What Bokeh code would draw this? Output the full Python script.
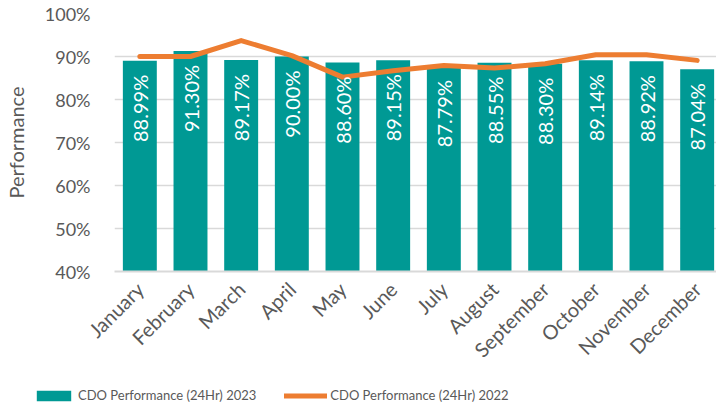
import math
from bokeh.plotting import figure
from bokeh.layouts import column
from bokeh.models import (ColumnDataSource, NumeralTickFormatter, FixedTicker,
                          Legend, LegendItem, Range1d)
from bokeh.core.properties import value
from bokeh.embed import file_html
from bokeh.resources import INLINE

months = ["January", "February", "March", "April", "May", "June", "July",
          "August", "September", "October", "November", "December"]
perf_2023 = [0.8899, 0.9130, 0.8917, 0.9000, 0.8860, 0.8915, 0.8779,
             0.8855, 0.8830, 0.8914, 0.8892, 0.8704]
perf_2022 = [0.900, 0.900, 0.937, 0.902, 0.852, 0.867, 0.879,
             0.873, 0.883, 0.904, 0.904, 0.891]
y_ticks = [0.4, 0.5, 0.6, 0.7, 0.8, 0.9, 1.0]
series_names = ["CDO Performance (24Hr) 2023", "CDO Performance (24Hr) 2022"]

FONT = "Lato"
TEAL = "#009994"
ORANGE = "#ED7D31"
GREY = "#595959"

src = ColumnDataSource(dict(
    month=months, v23=perf_2023, v22=perf_2022,
    lab=[f"{v:.2%}" for v in perf_2023],
))

p = figure(x_range=months, y_range=(0.4, 1.0), frame_width=608, frame_height=258,
           output_backend="svg", toolbar_location=None,
           min_border_left=100, min_border_right=0, min_border_top=13,
           min_border_bottom=113)
p.frame_align = False
p.x_range.range_padding = 0
p.outline_line_color = None
p.background_fill_color = "white"

bar_style = dict(width=0.67, fill_color=TEAL, line_color=None)
line_style = dict(line_color=ORANGE, line_width=5, line_cap="round", line_join="round")

p.vbar(x="month", top="v23", bottom=0, source=src, **bar_style)
p.line(x="month", y="v22", source=src, **line_style)

p.text(x="month", y="v23", text="lab", source=src, angle=math.pi / 2,
       text_align="right", text_baseline="middle", y_offset=14,
       text_color="white", text_font=value(FONT), text_font_size="20px")

p.xgrid.grid_line_color = None
p.ygrid.grid_line_color = "#D9D9D9"
p.ygrid.grid_line_width = 1.5

p.yaxis.ticker = FixedTicker(ticks=y_ticks)
p.yaxis.formatter = NumeralTickFormatter(format="0%")
p.yaxis.axis_line_color = None
p.yaxis.major_tick_line_color = None
p.yaxis.minor_tick_line_color = None
p.yaxis.major_label_text_font = FONT
p.yaxis.major_label_text_font_size = "18px"
p.yaxis.major_label_text_color = GREY
p.yaxis.major_label_standoff = 18
p.yaxis.axis_label = "Performance"
p.yaxis.axis_label_text_font = FONT
p.yaxis.axis_label_text_font_size = "20px"
p.yaxis.axis_label_text_font_style = "normal"
p.yaxis.axis_label_text_color = GREY
p.yaxis.axis_label_standoff = 14

p.xaxis.axis_line_color = "#D9D9D9"
p.xaxis.axis_line_width = 2
p.xaxis.major_tick_line_color = None
p.xaxis.minor_tick_line_color = None
p.xaxis.major_label_orientation = math.pi / 4
p.xaxis.major_label_text_font = FONT
p.xaxis.major_label_text_font_size = "20px"
p.xaxis.major_label_text_color = GREY
p.xaxis.major_label_standoff = 8

# legend strip below the chart (same data, glyphs kept out of its view)
lp = figure(x_range=p.x_range, y_range=Range1d(2, 3), width=708, height=22,
            output_backend="svg", toolbar_location=None,
            x_axis_location=None, y_axis_location=None,
            min_border=0, min_border_left=0, min_border_right=0,
            min_border_top=0, min_border_bottom=0)
lp.frame_align = False
lp.outline_line_color = None
lp.grid.visible = False
lb = lp.vbar(x="month", top="v23", bottom=0, source=src, **bar_style)
ll = lp.line(x="month", y="v22", source=src, **line_style)

legend = Legend(items=[
    LegendItem(label=series_names[0], renderers=[lb]),
    LegendItem(label=series_names[1], renderers=[ll]),
], orientation="horizontal", location=(32, 3))
legend.border_line_color = None
legend.background_fill_alpha = 0
legend.padding = 0
legend.margin = 0
legend.spacing = 28
legend.glyph_width = 43
legend.glyph_height = 13
legend.label_standoff = 3
legend.label_text_font = FONT
legend.label_text_font_size = "13px"
legend.label_text_color = GREY
lp.add_layout(legend, "center")

layout = column(p, lp, spacing=0)
open("out.html", "w").write(file_html(layout, INLINE))
